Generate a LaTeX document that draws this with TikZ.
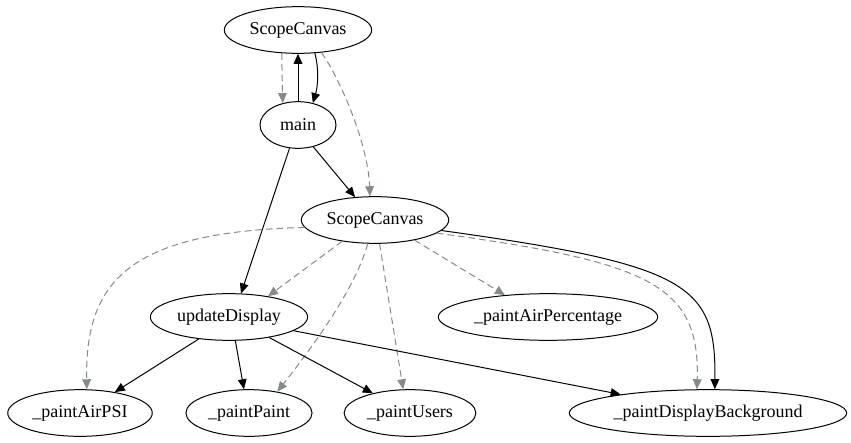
\documentclass[tikz,border=0pt]{standalone}
\usepackage{fontspec}
\setmainfont{Liberation Serif}
\usetikzlibrary{arrows.meta,shapes.geometric}
\definecolor{EdgeGray}{RGB}{131,139,139}

\begin{document}
\begin{tikzpicture}[x=0.75pt,y=-0.75pt,>={Triangle[length=7.5pt,width=6.5pt]},
    fn/.style={ellipse,draw,line width=0.75pt,inner xsep=2.7pt,inner ysep=0pt,
      minimum width=57pt,minimum height=35pt,font=\fontsize{13.5}{16}\selectfont},
    call/.style={->,line width=0.75pt},
    uses/.style={->,line width=0.75pt,EdgeGray,dash pattern=on 5pt off 3pt}]
      \useasboundingbox (0,0) rectangle (851,443);
      \node[fn] (scopeTop) at (298,30) {ScopeCanvas};
      \node[fn] (main) at (298,125) {main};
      \node[fn] (scope) at (375,220) {ScopeCanvas};
      \node[fn] (update) at (229,317) {updateDisplay};
      \node[fn] (airPct) at (548,317) {\_paintAirPercentage};
      \node[fn] (airPSI) at (80,413) {\_paintAirPSI};
      \node[fn] (paint) at (249,413) {\_paintPaint};
      \node[fn] (users) at (410,413) {\_paintUsers};
      \node[fn] (dispBg) at (708,413) {\_paintDisplayBackground};
      % main <-> ScopeCanvas
      \draw[uses] (scopeTop.235) -- (main.125);
      \draw[call] (main.north) -- (scopeTop.south);
      \draw[call] (scopeTop.306) .. controls (319,68) and (318,86) .. (main.56);
      \draw[uses] (scopeTop.316) .. controls (336,72) and (368,140) .. (scope.102);
      \draw[call] (main.305) -- (scope.131);
      \draw[call] (main.250) -- (update.63);
      % ScopeCanvas
      \draw[uses] (scope.213) -- (update.28);
      \draw[uses] (scope.186) .. controls (130,232) and (85,280) .. (airPSI.74);
      \draw[uses] (scope.253) .. controls (355,290) and (310,350) .. (paint.37);
      \draw[uses] (scope.281) -- (users.106);
      \draw[uses] (scope.333) -- (airPct.153);
      \draw[uses] (scope.348) .. controls (650,262) and (700,285) .. (dispBg.115);
      \draw[call] (scope.351) .. controls (690,265) and (716,285) .. (dispBg.74);
      % updateDisplay
      \draw[call] (update.216) -- (airPSI.31);
      \draw[call] (update.285) -- (paint.102);
      \draw[call] (update.333) -- (users.152);
      \draw[call] (update.348) -- (dispBg.168);
    \end{tikzpicture}
\end{document}
